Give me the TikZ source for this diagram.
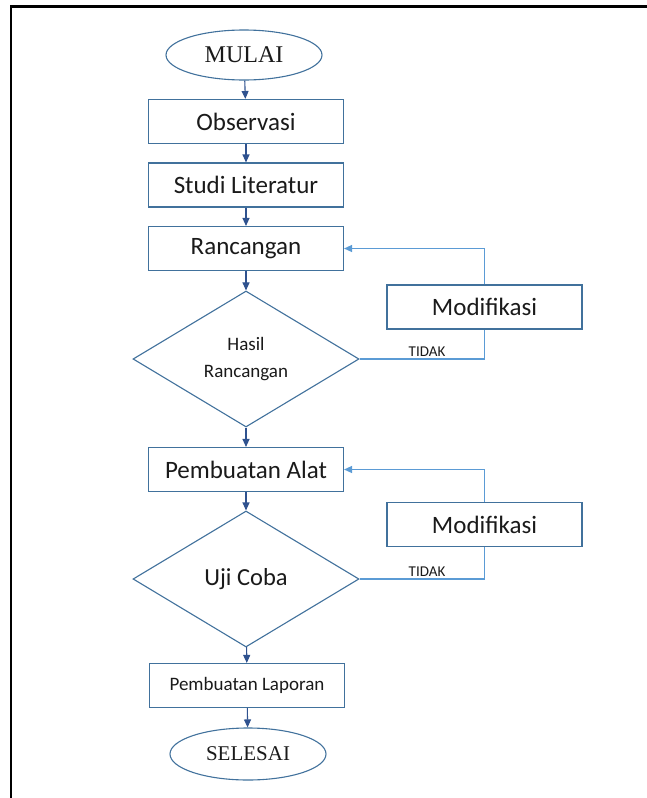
\documentclass[tikz,border=0pt]{standalone}
\usepackage{fontspec}
\setmainfont{Carlito}
\newfontfamily\serifrm{Liberation Serif}
\usetikzlibrary{shapes.geometric,arrows.meta}
\definecolor{boxline}{HTML}{41719C}
\definecolor{mainarrow}{HTML}{2F528F}
\definecolor{looparrow}{HTML}{5B9BD5}
\definecolor{txt}{HTML}{1A1A1A}
\begin{document}
\begin{tikzpicture}[x=1pt,y=-1pt,
  stepbox/.style={draw=boxline,line width=1.1pt,rectangle,minimum width=195pt,minimum height=44pt,inner sep=0pt,text=txt,font=\fontsize{25}{29}\selectfont},
  smallbox/.style={stepbox,font=\fontsize{19}{22}\selectfont},
  termnode/.style={draw=boxline,line width=1.1pt,ellipse,minimum width=156pt,minimum height=50pt,inner sep=0pt,text=txt},
  decide/.style={draw=boxline,line width=1.1pt,diamond,minimum width=226pt,minimum height=136pt,inner sep=0pt,text=txt,align=center},
  flow/.style={draw=mainarrow,line width=1.1pt,-{Triangle[length=8pt,width=7pt]}},
  back/.style={draw=looparrow,line width=1.3pt},
  backarrow/.style={back,-{Triangle[length=8pt,width=7pt]}},
  lbl/.style={text=txt,font=\fontsize{15}{17}\selectfont,inner sep=0pt}
]
\useasboundingbox (0,0) rectangle (647,798);
% outer frame (open at right and bottom, as cropped)
\draw[line width=2.6pt,black] (11,800) -- (11,6.5) -- (650,6.5);

\node[termnode,font=\serifrm\fontsize{24}{28}\selectfont] (mulai) at (244,55) {MULAI};
\node[stepbox] (obs) at (246,121.5) {Observasi};
\node[stepbox] (studi) at (246,185) {Studi Literatur};
\node[stepbox] (ranc) at (246,248.5) {Rancangan};
\node[decide,font=\fontsize{19}{27}\selectfont] (hasil) at (246,359) {Hasil\\Rancangan};
\node[stepbox] (mod1) at (484.5,307) {Modifikasi};
\node[stepbox] (alat) at (246,469.5) {Pembuatan Alat};
\node[decide,font=\fontsize{24.5}{28}\selectfont] (uji) at (246,579) {Uji Coba};
\node[stepbox] (mod2) at (484.5,524.5) {Modifikasi};
\node[smallbox] (lap) at (247,685.5) {Pembuatan Laporan};
\node[termnode,minimum height=52pt,font=\serifrm\fontsize{21}{25}\selectfont] (selesai) at (248,754) {SELESAI};

\draw[flow] (mulai) -- (obs);
\draw[flow] (obs) -- (studi);
\draw[flow] (studi) -- (ranc);
\draw[flow] (ranc) -- (hasil);
\draw[flow] (hasil) -- (alat);
\draw[flow] (alat) -- (uji);
\draw[flow] (uji) -- (lap);
\draw[flow] (lap) -- (selesai);

\draw[back] (hasil.east) -- (hasil.east -| mod1.south) -- (mod1.south);
\draw[backarrow] (mod1.north) |- (ranc.east);
\draw[back] (uji.east) -- (uji.east -| mod2.south) -- (mod2.south);
\draw[backarrow] (mod2.north) |- (alat.east);

\node[lbl] (tidak1) at (427,352) {TIDAK};
\node[lbl] (tidak2) at (427,572) {TIDAK};
\end{tikzpicture}
\end{document}
